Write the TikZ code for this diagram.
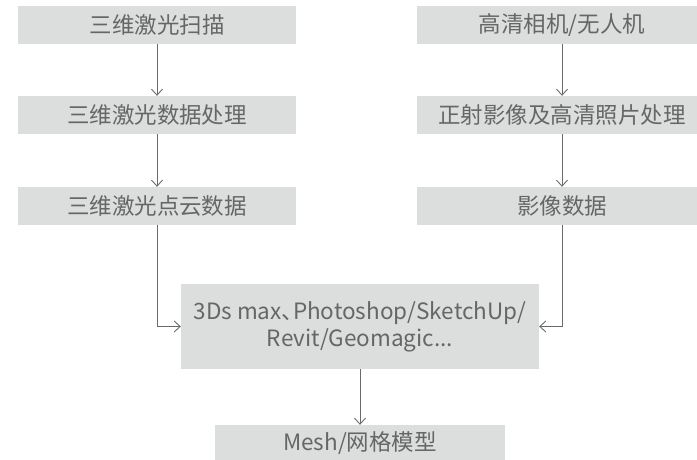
\documentclass[tikz,border=0pt]{standalone}
\usepackage{fontspec}
\setmainfont{Noto Sans CJK SC}
\usetikzlibrary{arrows.meta}
\definecolor{boxfill}{HTML}{DCDDDD}
\definecolor{txt}{HTML}{666666}
\definecolor{ln}{HTML}{6A6A6A}
\tikzset{
  stepbox/.style={rectangle, fill=boxfill, draw=none, inner sep=0pt, text=txt,
    font=\fontsize{22.5pt}{27pt}\selectfont, align=center},
  flow/.style={draw=ln, line width=0.9pt, -{Straight Barb[length=6pt,width=11pt,line width=0.9pt]}}
}
\begin{document}
\begin{tikzpicture}[x=1pt,y=-1pt]
\useasboundingbox (0,0) rectangle (697,460);
\node[stepbox, minimum width=278pt, minimum height=38pt] (L1) at (157,25) {三维激光扫描};
\node[stepbox, minimum width=278pt, minimum height=38pt] (L2) at (157,115) {三维激光数据处理};
\node[stepbox, minimum width=278pt, minimum height=38pt] (L3) at (157,206) {三维激光点云数据};
\node[stepbox, minimum width=290pt, minimum height=38pt] (R1) at (562,25) {高清相机/无人机};
\node[stepbox, minimum width=290pt, minimum height=38pt] (R2) at (562,115) {正射影像及高清照片处理};
\node[stepbox, minimum width=290pt, minimum height=38pt] (R3) at (562,206) {影像数据};
\node[stepbox, minimum width=358pt, minimum height=85pt] (C) at (360,326.5) {3Ds max、\kern-0.5em Photoshop/SketchUp/\\Revit/Geomagic...};
\node[stepbox, minimum width=290pt, minimum height=36pt] (M) at (360,443) {Mesh/网格模型};
\draw[flow] (L1) -- (L2);
\draw[flow] (L2) -- (L3);
\draw[flow] (R1) -- (R2);
\draw[flow] (R2) -- (R3);
\draw[flow] (L3.south) |- (C.west);
\draw[flow] (R3.south) |- (C.east);
\draw[flow] (C) -- (M);
\end{tikzpicture}
\end{document}
